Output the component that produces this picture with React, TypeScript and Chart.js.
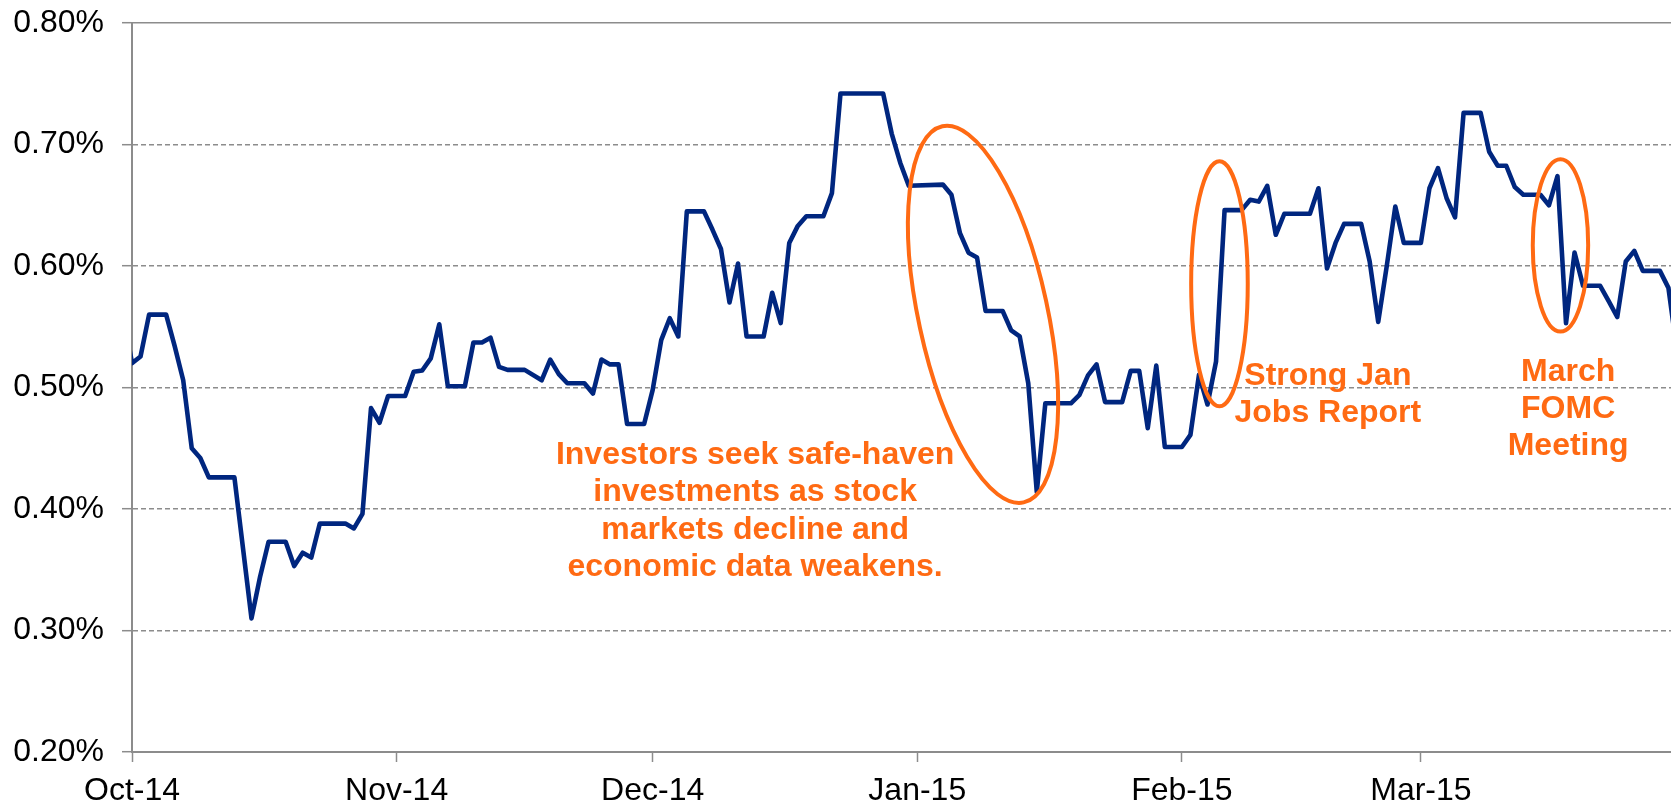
import React, { useEffect, useRef } from "react";
import { Chart, registerables } from "chart.js";

Chart.register(...registerables);

// Days counted from 1 Oct 2014 (day 0); yields in percent
const days = [
  -1, 0, 1, 2, 4, 5, 6, 7, 8, 9, 12, 14, 15, 16, 18, 19, 20, 21, 22, 25, 26, 27, 28, 29, 30, 32, 33, 34, 35, 36, 37, 39,
  40, 41, 42, 43, 44, 46, 48, 49, 50, 51, 53, 54, 55, 56, 57, 58, 60, 61, 62, 63, 64, 65, 67, 68, 69, 70, 71, 72, 74,
  75, 76, 77, 78, 79, 81, 82, 83, 88, 89, 90, 91, 95, 96, 97, 98, 99, 100, 102, 103, 104, 105, 106, 107, 110, 111, 112,
  113, 114, 116, 117, 118, 119, 120, 121, 123, 124, 125, 126, 127, 128, 130, 131, 132, 133, 134, 135, 138, 139, 140,
  141, 142, 144, 145, 146, 147, 148, 149, 151, 152, 153, 154, 155, 156, 158, 159, 160, 161, 162, 163, 165, 166, 167,
  168, 169, 170, 172, 173, 174, 175, 176, 177, 179, 180, 181,
];
const yields = [
  0.56, 0.52, 0.5255, 0.56, 0.56, 0.534, 0.506, 0.45, 0.442, 0.426, 0.426, 0.31, 0.344, 0.373, 0.373, 0.353, 0.364,
  0.36, 0.388, 0.388, 0.384, 0.396, 0.483, 0.471, 0.493, 0.493, 0.513, 0.514, 0.524, 0.552, 0.501, 0.501, 0.537, 0.537,
  0.541, 0.517, 0.5145, 0.5145, 0.506, 0.523, 0.511, 0.5035, 0.5035, 0.495, 0.523, 0.519, 0.519, 0.47, 0.47, 0.498,
  0.539, 0.557, 0.542, 0.645, 0.645, 0.63, 0.614, 0.57, 0.602, 0.542, 0.542, 0.578, 0.553, 0.619, 0.633, 0.641, 0.641,
  0.66, 0.742, 0.742, 0.709, 0.685, 0.666, 0.667, 0.6586, 0.627, 0.611, 0.607, 0.563, 0.563, 0.547, 0.542, 0.5035,
  0.414, 0.487, 0.487, 0.494, 0.51, 0.519, 0.488, 0.488, 0.5137, 0.5137, 0.4665, 0.518, 0.451, 0.451, 0.461, 0.5104,
  0.486, 0.5214, 0.646, 0.646, 0.6545, 0.653, 0.666, 0.6257, 0.643, 0.643, 0.664, 0.598, 0.619, 0.6347, 0.6347, 0.6037,
  0.554, 0.6, 0.649, 0.619, 0.619, 0.664, 0.6805, 0.656, 0.64, 0.726, 0.726, 0.694, 0.6825, 0.6825, 0.665, 0.6586,
  0.6586, 0.65, 0.674, 0.553, 0.611, 0.5837, 0.5837, 0.571, 0.558, 0.6037, 0.6125, 0.596, 0.596, 0.582, 0.53,
];

const monthStarts = [0, 31, 61, 92, 123, 151];
const monthLabels = ["Oct-14", "Nov-14", "Dec-14", "Jan-15", "Feb-15", "Mar-15"];
const yTicks = [0.2, 0.3, 0.4, 0.5, 0.6, 0.7, 0.8];
const visibleEnd = 180.3;

const noteTexts = [
  ["Investors seek safe-haven", "investments as stock", "markets decline and", "economic data weakens."],
  ["Strong Jan", "Jobs Report"],
  ["March", "FOMC", "Meeting"],
];
const noteDays = [73.0, 140.1, 168.25];
const noteValues = [0.4442, 0.5094, 0.513];

const ellipseDays = [99.7, 127.4, 167.35];
const ellipseValues = [0.5602, 0.5853, 0.617];
const ellipseSizes = [
  { rx: 64.5, ry: 192.4, rot: -12.2 },
  { rx: 28.3, ry: 122.5, rot: 0 },
  { rx: 27.7, ry: 86.2, rot: 0 },
];

const FONT = '"Liberation Sans", Arial, Helvetica, sans-serif';
const NAVY = "#00267F";
const ORANGE = "#FF6A13";

const annotationPlugin = {
  id: "annotations",
  afterDatasetsDraw(chart: any) {
    const { ctx, scales } = chart;
    const xs = scales.x;
    const ys = scales.y;
    ctx.save();
    ctx.strokeStyle = ORANGE;
    ctx.lineWidth = 4;
    ellipseDays.forEach((d, i) => {
      const s = ellipseSizes[i];
      ctx.beginPath();
      ctx.ellipse(
        xs.getPixelForValue(d),
        ys.getPixelForValue(ellipseValues[i]),
        s.rx,
        s.ry,
        (s.rot * Math.PI) / 180,
        0,
        Math.PI * 2
      );
      ctx.stroke();
    });
    ctx.fillStyle = ORANGE;
    ctx.font = `bold 32px ${FONT}`;
    ctx.textAlign = "center";
    ctx.textBaseline = "middle";
    noteTexts.forEach((lines, i) => {
      const x = xs.getPixelForValue(noteDays[i]);
      const y0 = ys.getPixelForValue(noteValues[i]);
      lines.forEach((t, j) => ctx.fillText(t, x, y0 + j * 37.2));
    });
    ctx.restore();
  },
};

export default function App() {
  const ref = useRef<HTMLCanvasElement>(null);
  useEffect(() => {
    document.body.style.margin = "0";
    document.body.style.overflow = "hidden";
    const canvas = ref.current!;
    const chart = new Chart(canvas, {
      type: "line",
      data: {
        datasets: [
          {
            data: days.map((d, i) => ({ x: d, y: yields[i] })),
            borderColor: NAVY,
            borderWidth: 4.6,
            pointRadius: 0,
            tension: 0,
            borderJoinStyle: "round",
            borderCapStyle: "round",
            clip: { left: 0, right: 0, top: 6, bottom: 6 } as any,
          },
        ],
      },
      options: {
        animation: false,
        responsive: false,
        maintainAspectRatio: false,
        layout: { padding: { top: 23, left: 0, right: 0, bottom: 0 } },
        plugins: {
          legend: { display: false },
          tooltip: { enabled: false },
          title: { display: false },
        },
        scales: {
          x: {
            type: "linear",
            min: 0,
            max: visibleEnd,
            afterBuildTicks: (s: any) => {
              s.ticks = monthStarts.map((v) => ({ value: v }));
            },
            afterFit: (s: any) => {
              s.height = 54;
              s.paddingLeft = 0;
              s.paddingRight = 0;
            },
            grid: {
              drawOnChartArea: false,
              drawTicks: true,
              tickLength: 10,
              tickColor: "#8c8c8c",
              tickWidth: 1.5,
            },
            border: { color: "#8c8c8c", width: 2 },
            ticks: {
              autoSkip: false,
              maxRotation: 0,
              padding: 10,
              color: "#000",
              font: { family: FONT, size: 32 },
              callback: (v: any) => {
                const i = monthStarts.indexOf(Number(v));
                return i >= 0 ? monthLabels[i] : "";
              },
            },
          },
          y: {
            min: 0.2,
            max: 0.8,
            afterBuildTicks: (s: any) => {
              s.ticks = yTicks.map((v) => ({ value: v }));
            },
            afterFit: (s: any) => {
              s.width = 132;
              s.paddingTop = 0;
              s.paddingBottom = 0;
            },
            grid: {
              color: "#8c8c8c",
              lineWidth: 1.4,
              tickLength: 10,
              tickColor: "#8c8c8c",
              tickWidth: 1.5,
            },
            border: {
              color: "#8c8c8c",
              width: 2,
              dash: (c: any) => (c.tick && Math.abs(c.tick.value - 0.8) < 1e-9 ? [] : [5, 3]),
            },
            ticks: {
              padding: 18,
              color: "#000",
              font: { family: FONT, size: 32 },
              callback: (v: any) => Number(v).toFixed(2) + "%",
            },
          },
        },
      },
      plugins: [annotationPlugin],
    });
    return () => chart.destroy();
  }, []);
  return (
    <div style={{ width: 1671, height: 806, background: "#fff" }}>
      <canvas ref={ref} width={1671} height={806} style={{ display: "block" }} />
    </div>
  );
}
